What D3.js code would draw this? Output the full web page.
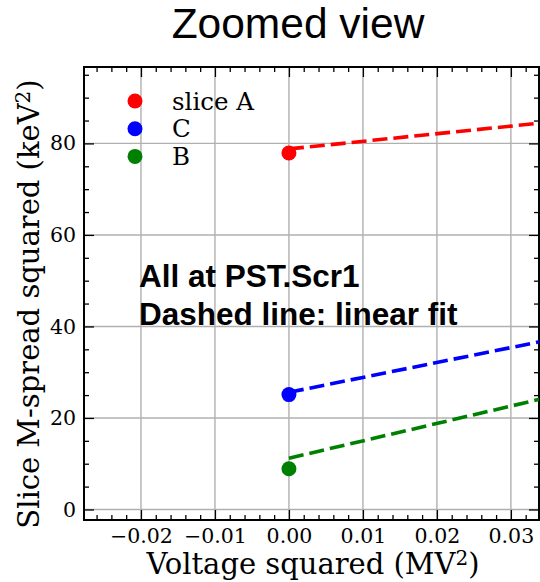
<!DOCTYPE html>
<html>
<head>
    <meta charset="utf-8" />
    <title>Zoomed view</title>
    <script src="https://d3js.org/d3.v7.min.js" charset="utf-8"></script>
    <style>
        body { margin: 0; background: #fff; }
    </style>
</head>
<body>
    <script>
        // Series data
        const seriesNames = ["slice A", "C", "B"];
        const seriesColors = ["#ff0000", "#0000ff", "#008000"];
        const pointX = [0, 0, 0];
        const pointY = [77.9, 25.1, 8.9];
        // linear fit: y = intercept + slope * x
        const fitIntercept = [78.8, 25.6, 11.2];
        const fitSlope = [166, 326, 380];
        const fitRange = [0, 0.04];

        const xTicks = [-0.02, -0.01, 0.00, 0.01, 0.02, 0.03];
        const yTicks = [0, 20, 40, 60, 80];

        const width = 540, height = 582;
        const margin = { top: 67, right: 1, bottom: 62, left: 84 };
        const serif = "'DejaVu Serif', serif";
        const sans = "'Liberation Sans', Arial, sans-serif";

        const svg = d3.select("body").append("svg")
            .attr("width", width)
            .attr("height", height);

        const x = d3.scaleLinear()
            .domain([-0.0277, 0.0338])
            .range([margin.left, width - margin.right]);

        const y = d3.scaleLinear()
            .domain([-2.3, 96.7])
            .range([height - margin.bottom, margin.top]);

        const minorX = d3.range(-0.026, 0.034, 0.002).filter(v => Math.abs(Math.round(v * 100) - v * 100) > 1e-6);
        const minorY = d3.range(0, 97, 5).filter(v => v % 20 !== 0);

        // Clip path for the plot area
        svg.append("clipPath").attr("id", "plot-clip")
            .append("rect")
            .attr("x", margin.left).attr("y", margin.top)
            .attr("width", width - margin.left - margin.right)
            .attr("height", height - margin.top - margin.bottom);

        // Grid lines
        const grid = svg.append("g").attr("stroke", "#b0b0b0").attr("stroke-width", 1.4);
        grid.selectAll(".gx").data(xTicks).enter().append("line")
            .attr("x1", d => x(d)).attr("x2", d => x(d))
            .attr("y1", margin.top).attr("y2", height - margin.bottom);
        grid.selectAll(".gy").data(yTicks).enter().append("line")
            .attr("x1", margin.left).attr("x2", width - margin.right)
            .attr("y1", d => y(d)).attr("y2", d => y(d));

        // Axes: major + minor ticks pointing inward on all four sides
        function styleAxis(g) {
            g.select(".domain").remove();
            g.selectAll(".tick line").attr("stroke", "#000").attr("stroke-width", 1.3);
            g.selectAll(".tick text").attr("fill", "#000")
                .attr("font-family", serif).attr("font-size", "20.5px");
        }
        const fmtX = d3.format(".2f");
        const bottomY = height - margin.bottom;

        svg.append("g").attr("transform", `translate(0,${bottomY})`)
            .call(d3.axisBottom(x).tickValues(xTicks).tickSize(-10).tickPadding(8)
                .tickFormat(d => fmtX(d).replace("-", "\u2212")))
            .call(styleAxis);
        svg.append("g").attr("transform", `translate(0,${bottomY})`)
            .call(d3.axisBottom(x).tickValues(minorX).tickSize(-5).tickFormat(""))
            .call(styleAxis);
        svg.append("g").attr("transform", `translate(0,${margin.top})`)
            .call(d3.axisTop(x).tickValues(xTicks).tickSize(-10).tickFormat(""))
            .call(styleAxis);
        svg.append("g").attr("transform", `translate(0,${margin.top})`)
            .call(d3.axisTop(x).tickValues(minorX).tickSize(-5).tickFormat(""))
            .call(styleAxis);

        svg.append("g").attr("transform", `translate(${margin.left},0)`)
            .call(d3.axisLeft(y).tickValues(yTicks).tickSize(-10).tickPadding(8))
            .call(styleAxis);
        svg.append("g").attr("transform", `translate(${margin.left},0)`)
            .call(d3.axisLeft(y).tickValues(minorY).tickSize(-5).tickFormat(""))
            .call(styleAxis);
        svg.append("g").attr("transform", `translate(${width - margin.right},0)`)
            .call(d3.axisRight(y).tickValues(yTicks).tickSize(-10).tickFormat(""))
            .call(styleAxis);
        svg.append("g").attr("transform", `translate(${width - margin.right},0)`)
            .call(d3.axisRight(y).tickValues(minorY).tickSize(-5).tickFormat(""))
            .call(styleAxis);

        // Spines
        svg.append("rect")
            .attr("x", margin.left).attr("y", margin.top)
            .attr("width", width - margin.left - margin.right)
            .attr("height", height - margin.top - margin.bottom)
            .attr("fill", "none").attr("stroke", "#000").attr("stroke-width", 2);

        // Dashed linear fits
        const plot = svg.append("g").attr("clip-path", "url(#plot-clip)");
        seriesNames.forEach((name, i) => {
            const line = d3.line().x(d => x(d)).y(d => y(fitIntercept[i] + fitSlope[i] * d));
            plot.append("path")
                .attr("d", line(fitRange))
                .attr("fill", "none")
                .attr("stroke", seriesColors[i])
                .attr("stroke-width", 3.6)
                .attr("stroke-dasharray", "15,6");
        });

        // Data points
        plot.selectAll(".pt").data(seriesNames).enter().append("circle")
            .attr("cx", (d, i) => x(pointX[i]))
            .attr("cy", (d, i) => y(pointY[i]))
            .attr("r", 7.5)
            .attr("fill", (d, i) => seriesColors[i]);

        // Legend
        const legend = svg.append("g");
        seriesNames.forEach((name, i) => {
            const ly = 101 + i * 27.7;
            legend.append("circle").attr("cx", 135).attr("cy", ly).attr("r", 7.5)
                .attr("fill", seriesColors[i]);
            legend.append("text").attr("x", 172).attr("y", ly).attr("dy", "0.35em")
                .attr("font-family", serif).attr("font-size", "24.5px").attr("fill", "#000")
                .text(name);
        });

        // Annotation
        const note = svg.append("text")
            .attr("font-family", sans).attr("font-weight", "bold")
            .attr("font-size", "31.5px").attr("fill", "#000");
        note.append("tspan").attr("x", 139).attr("y", 286.5).text("All at PST.Scr1");
        note.append("tspan").attr("x", 139).attr("y", 325).text("Dashed line: linear fit");

        // Title
        svg.append("text")
            .attr("x", 298).attr("y", 38)
            .attr("text-anchor", "middle")
            .attr("font-family", sans).attr("font-size", "42.5px").attr("fill", "#000")
            .text("Zoomed view");

        // Axis labels
        const xl = svg.append("text")
            .attr("x", 313).attr("y", 574)
            .attr("text-anchor", "middle")
            .attr("font-family", serif).attr("font-size", "29px").attr("fill", "#000");
        xl.append("tspan").text("Voltage squared (MV");
        xl.append("tspan").attr("dy", "-9px").attr("font-size", "20px").text("2");
        xl.append("tspan").attr("dy", "9px").text(")");

        const yl = svg.append("text")
            .attr("transform", "translate(39,304) rotate(-90)")
            .attr("text-anchor", "middle")
            .attr("font-family", serif).attr("font-size", "29px").attr("fill", "#000");
        yl.append("tspan").text("Slice M-spread squared (keV");
        yl.append("tspan").attr("dy", "-9px").attr("font-size", "20px").text("2");
        yl.append("tspan").attr("dy", "9px").text(")");
    </script>
</body>
</html>
